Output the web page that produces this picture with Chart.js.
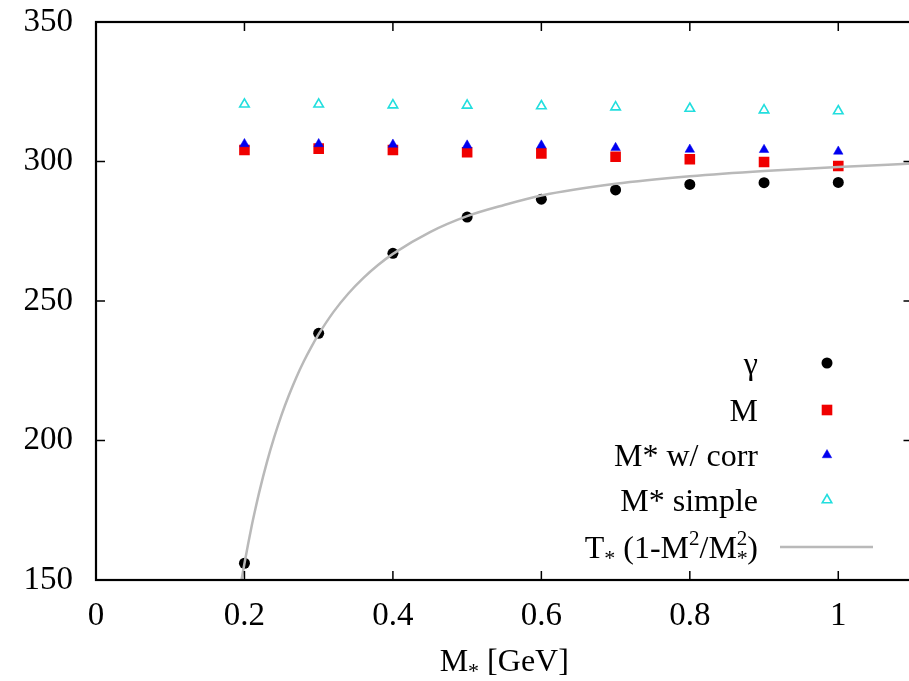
<!DOCTYPE html>
<html>
<head>
<meta charset="utf-8">
<script src="https://cdn.jsdelivr.net/npm/chart.js@4.4.1/dist/chart.umd.min.js"></script>
<style>
  html, body { margin: 0; padding: 0; background: #fff; overflow: hidden; }
  #wrap { width: 920px; height: 681px; }
</style>
</head>
<body>
<div id="wrap"><canvas id="c" width="920" height="681"></canvas></div>
<script>
// M* values [GeV] at which each quantity was evaluated
const massStar = [0.2, 0.3, 0.4, 0.5, 0.6, 0.7, 0.8, 0.9, 1.0];
// gamma
const gammaVals = [156.0, 238.4, 267.1, 280.1, 286.5, 289.8, 291.8, 292.4, 292.5];
// M
const mVals = [304.1, 304.6, 304.1, 303.3, 302.9, 301.7, 300.8, 299.8, 298.4];
// M* with correction
const corrVals = [306.3, 306.3, 306.1, 305.8, 305.8, 304.9, 304.3, 304.2, 303.6];
// M* simple
const simpleVals = [320.5, 320.5, 320.2, 320.1, 319.9, 319.5, 319.0, 318.4, 318.1];
// T* (1 - M^2/M*^2) curve samples
const curveX = [0.196, 0.2, 0.205, 0.21, 0.215, 0.22, 0.23, 0.24, 0.25, 0.26, 0.27, 0.28, 0.29, 0.3,
                0.32, 0.34, 0.36, 0.38, 0.4, 0.45, 0.5, 0.55, 0.6, 0.7, 0.8, 0.9, 1.0, 1.1];
const curveVals = [150.0, 155.9, 163.0, 169.7, 175.8, 181.6, 192.0, 201.1, 209.2, 216.3, 222.7, 228.4, 233.5, 238.1,
                   246.1, 252.7, 258.2, 262.9, 266.9, 274.7, 280.4, 284.4, 287.8, 292.0, 294.7, 296.6, 298.0, 299.3];
// axis ticks
const xTicks = [0, 0.2, 0.4, 0.6, 0.8, 1];
const yTicks = [150, 200, 250, 300, 350];

const SERIF = '"Liberation Serif", "Times New Roman", serif';
const pts = (ys) => massStar.map((x, i) => ({ x: x, y: ys[i] }));

// draws a run of text pieces (with sub/superscripts); parts: {t, s, dy, keep}
function richWidth(ctx, parts) {
  let w = 0;
  for (const p of parts) {
    ctx.font = p.s + 'px ' + SERIF;
    if (!p.keep) w += ctx.measureText(p.t).width;
  }
  return w;
}
function drawRich(ctx, parts, x, y, align) {
  const w = richWidth(ctx, parts);
  let cx = align === 'right' ? x - w : (align === 'center' ? x - w / 2 : x);
  ctx.textAlign = 'left';
  ctx.textBaseline = 'alphabetic';
  for (const p of parts) {
    ctx.font = p.s + 'px ' + SERIF;
    ctx.fillText(p.t, cx, y + (p.dy || 0));
    if (!p.keep) cx += ctx.measureText(p.t).width;
  }
}

const framePlugin = {
  id: 'frameAndKey',
  afterDraw(chart) {
    const ctx = chart.ctx;
    const a = chart.chartArea;
    const xs = chart.scales.x, ys = chart.scales.y;
    ctx.save();
    // frame
    ctx.strokeStyle = '#000';
    ctx.lineWidth = 2.2;
    ctx.strokeRect(a.left, a.top, a.right - a.left, a.bottom - a.top);
    // inward tick marks on all four sides
    ctx.lineWidth = 1.5;
    const tl = 9;
    ctx.beginPath();
    for (const v of xTicks) {
      const px = xs.getPixelForValue(v);
      ctx.moveTo(px, a.bottom); ctx.lineTo(px, a.bottom - tl);
      ctx.moveTo(px, a.top); ctx.lineTo(px, a.top + tl);
    }
    for (const v of yTicks) {
      const py = ys.getPixelForValue(v);
      ctx.moveTo(a.left, py); ctx.lineTo(a.left + tl, py);
      ctx.moveTo(a.right, py); ctx.lineTo(a.right - tl, py);
    }
    ctx.stroke();

    // x axis title: M* [GeV]
    ctx.fillStyle = '#000';
    drawRich(ctx, [
      { t: 'M', s: 32 },
      { t: '*', s: 22, dy: 7 },
      { t: ' [GeV]', s: 32 }
    ], (a.left + a.right) / 2, 671, 'center');

    // key
    const keyRight = 758, markX = 827, lineX0 = 780, lineX1 = 873;
    const rows = [
      { ds: 4, y: 363, parts: [{ t: 'γ', s: 32 }] },
      { ds: 3, y: 410, parts: [{ t: 'M', s: 32 }] },
      { ds: 2, y: 455, parts: [{ t: 'M* w/ corr', s: 32 }] },
      { ds: 1, y: 500, parts: [{ t: 'M* simple', s: 32 }] },
      { ds: 0, y: 547, parts: [
        { t: 'T', s: 32 }, { t: '*', s: 22, dy: 7 },
        { t: ' (1-M', s: 32 }, { t: '2', s: 21, dy: -13 },
        { t: '/M', s: 32 }, { t: '*', s: 22, dy: 7, keep: true }, { t: '2', s: 21, dy: -13 },
        { t: ')', s: 32 }
      ] }
    ];
    for (const r of rows) {
      const d = chart.data.datasets[r.ds];
      ctx.fillStyle = '#000';
      drawRich(ctx, r.parts, keyRight, r.y + 11, 'right');
      if (d.type === 'line') {
        ctx.strokeStyle = d.borderColor;
        ctx.lineWidth = d.borderWidth;
        ctx.beginPath();
        ctx.moveTo(lineX0, r.y); ctx.lineTo(lineX1, r.y);
        ctx.stroke();
      } else {
        ctx.fillStyle = d.backgroundColor;
        ctx.strokeStyle = d.borderColor;
        ctx.lineWidth = d.borderWidth;
        Chart.helpers.drawPoint(ctx, {
          pointStyle: d.pointStyle, radius: d.pointRadius,
          rotation: 0, borderWidth: d.borderWidth
        }, markX, r.y);
      }
    }
    ctx.restore();
  }
};

const tickFont = { family: SERIF, size: 33 };

new Chart(document.getElementById('c'), {
  type: 'scatter',
  data: {
    datasets: [
      {
        label: 'T* (1-M²/M*²)', type: 'line',
        data: curveX.map((x, i) => ({ x: x, y: curveVals[i] })),
        borderColor: '#b9b9b9', borderWidth: 2.5, pointRadius: 0,
        cubicInterpolationMode: 'monotone', fill: false, order: 0
      },
      {
        label: 'M* simple', data: pts(simpleVals), pointStyle: 'triangle',
        pointRadius: 5.5, backgroundColor: 'rgba(0,0,0,0)', borderColor: '#22dede',
        borderWidth: 1.6, order: 1
      },
      {
        label: 'M* w/ corr', data: pts(corrVals), pointStyle: 'triangle',
        pointRadius: 5.5, backgroundColor: '#0000f0', borderColor: '#0000f0',
        borderWidth: 0.5, order: 2
      },
      {
        label: 'M', data: pts(mVals), pointStyle: 'rect',
        pointRadius: 7.5, backgroundColor: '#f00000', borderColor: '#f00000',
        borderWidth: 0, order: 3
      },
      {
        label: 'γ', data: pts(gammaVals), pointStyle: 'circle',
        pointRadius: 5.5, backgroundColor: '#000', borderColor: '#000',
        borderWidth: 0, order: 4
      }
    ]
  },
  options: {
    responsive: false,
    animation: false,
    events: [],
    layout: { padding: { top: 22, right: 4.5, left: 0, bottom: 0 } },
    plugins: { legend: { display: false }, tooltip: { enabled: false } },
    scales: {
      x: {
        type: 'linear', min: 0, max: 1.1,
        afterBuildTicks: (s) => { s.ticks = xTicks.map(v => ({ value: v })); },
        afterFit: (s) => { s.height = 101; s.paddingLeft = 0; s.paddingRight = 0; },
        grid: { display: false }, border: { display: false },
        ticks: { font: tickFont, color: '#000', padding: 9, maxRotation: 0,
                 autoSkip: false, callback: (v) => String(v) }
      },
      y: {
        type: 'linear', min: 150, max: 350,
        afterBuildTicks: (s) => { s.ticks = yTicks.map(v => ({ value: v })); },
        afterFit: (s) => { s.width = 96; s.paddingTop = 0; s.paddingBottom = 0; },
        grid: { display: false }, border: { display: false },
        ticks: { font: tickFont, color: '#000', padding: 15, autoSkip: false,
                 callback: (v) => String(v) }
      }
    }
  },
  plugins: [framePlugin]
});
</script>
</body>
</html>
